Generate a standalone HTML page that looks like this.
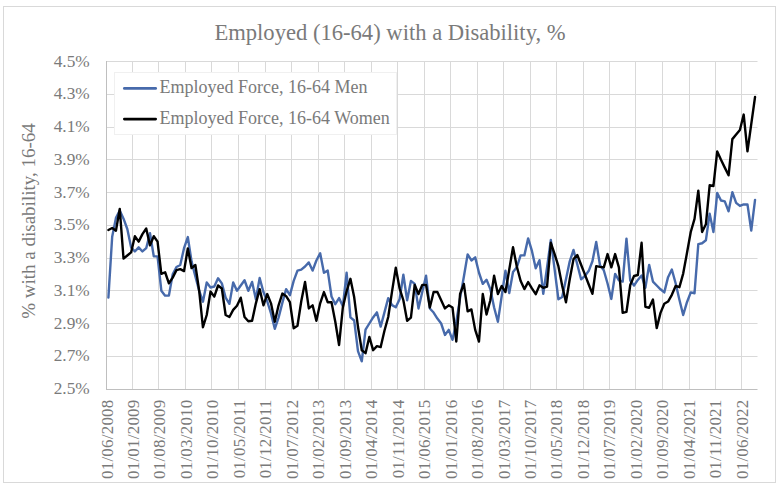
<!DOCTYPE html>
<html><head><meta charset="utf-8"><style>
html,body{margin:0;padding:0;background:#fff;}
body{width:784px;height:491px;overflow:hidden;position:relative;}
svg{position:absolute;left:0;top:0;}
text{font-family:"Liberation Serif",serif;fill:#7a7a7a;}
</style></head><body>
<svg width="784" height="491" viewBox="0 0 784 491">

<rect x="3.5" y="6.5" width="772" height="476" fill="#fff" stroke="#d9d9d9" stroke-width="1"/>
<line x1="106.5" y1="356.5" x2="757.5" y2="356.5" stroke="#d9d9d9" stroke-width="1"/>
<line x1="106.5" y1="323.5" x2="757.5" y2="323.5" stroke="#d9d9d9" stroke-width="1"/>
<line x1="106.5" y1="290.5" x2="757.5" y2="290.5" stroke="#d9d9d9" stroke-width="1"/>
<line x1="106.5" y1="258.5" x2="757.5" y2="258.5" stroke="#d9d9d9" stroke-width="1"/>
<line x1="106.5" y1="225.5" x2="757.5" y2="225.5" stroke="#d9d9d9" stroke-width="1"/>
<line x1="106.5" y1="192.5" x2="757.5" y2="192.5" stroke="#d9d9d9" stroke-width="1"/>
<line x1="106.5" y1="159.5" x2="757.5" y2="159.5" stroke="#d9d9d9" stroke-width="1"/>
<line x1="106.5" y1="127.5" x2="757.5" y2="127.5" stroke="#d9d9d9" stroke-width="1"/>
<line x1="106.5" y1="94.5" x2="757.5" y2="94.5" stroke="#d9d9d9" stroke-width="1"/>
<line x1="106.5" y1="61.5" x2="757.5" y2="61.5" stroke="#d9d9d9" stroke-width="1"/>
<line x1="106.5" y1="61" x2="106.5" y2="389" stroke="#bfbfbf" stroke-width="1"/>
<line x1="132.5" y1="61" x2="132.5" y2="389" stroke="#d9d9d9" stroke-width="1"/>
<line x1="158.5" y1="61" x2="158.5" y2="389" stroke="#d9d9d9" stroke-width="1"/>
<line x1="185.5" y1="61" x2="185.5" y2="389" stroke="#d9d9d9" stroke-width="1"/>
<line x1="211.5" y1="61" x2="211.5" y2="389" stroke="#d9d9d9" stroke-width="1"/>
<line x1="238.5" y1="61" x2="238.5" y2="389" stroke="#d9d9d9" stroke-width="1"/>
<line x1="265.5" y1="61" x2="265.5" y2="389" stroke="#d9d9d9" stroke-width="1"/>
<line x1="291.5" y1="61" x2="291.5" y2="389" stroke="#d9d9d9" stroke-width="1"/>
<line x1="318.5" y1="61" x2="318.5" y2="389" stroke="#d9d9d9" stroke-width="1"/>
<line x1="344.5" y1="61" x2="344.5" y2="389" stroke="#d9d9d9" stroke-width="1"/>
<line x1="371.5" y1="61" x2="371.5" y2="389" stroke="#d9d9d9" stroke-width="1"/>
<line x1="397.5" y1="61" x2="397.5" y2="389" stroke="#d9d9d9" stroke-width="1"/>
<line x1="424.5" y1="61" x2="424.5" y2="389" stroke="#d9d9d9" stroke-width="1"/>
<line x1="450.5" y1="61" x2="450.5" y2="389" stroke="#d9d9d9" stroke-width="1"/>
<line x1="477.5" y1="61" x2="477.5" y2="389" stroke="#d9d9d9" stroke-width="1"/>
<line x1="503.5" y1="61" x2="503.5" y2="389" stroke="#d9d9d9" stroke-width="1"/>
<line x1="530.5" y1="61" x2="530.5" y2="389" stroke="#d9d9d9" stroke-width="1"/>
<line x1="556.5" y1="61" x2="556.5" y2="389" stroke="#d9d9d9" stroke-width="1"/>
<line x1="583.5" y1="61" x2="583.5" y2="389" stroke="#d9d9d9" stroke-width="1"/>
<line x1="609.5" y1="61" x2="609.5" y2="389" stroke="#d9d9d9" stroke-width="1"/>
<line x1="635.5" y1="61" x2="635.5" y2="389" stroke="#d9d9d9" stroke-width="1"/>
<line x1="662.5" y1="61" x2="662.5" y2="389" stroke="#d9d9d9" stroke-width="1"/>
<line x1="689.5" y1="61" x2="689.5" y2="389" stroke="#d9d9d9" stroke-width="1"/>
<line x1="715.5" y1="61" x2="715.5" y2="389" stroke="#d9d9d9" stroke-width="1"/>
<line x1="741.5" y1="61" x2="741.5" y2="389" stroke="#d9d9d9" stroke-width="1"/>
<line x1="106" y1="389.5" x2="757.5" y2="389.5" stroke="#bfbfbf" stroke-width="1"/>
<text x="89.7" y="394.00" font-size="17.3" text-anchor="end">2.5%</text>
<text x="89.7" y="361.25" font-size="17.3" text-anchor="end">2.7%</text>
<text x="89.7" y="328.50" font-size="17.3" text-anchor="end">2.9%</text>
<text x="89.7" y="295.75" font-size="17.3" text-anchor="end">3.1%</text>
<text x="89.7" y="263.00" font-size="17.3" text-anchor="end">3.3%</text>
<text x="89.7" y="230.25" font-size="17.3" text-anchor="end">3.5%</text>
<text x="89.7" y="197.50" font-size="17.3" text-anchor="end">3.7%</text>
<text x="89.7" y="164.75" font-size="17.3" text-anchor="end">3.9%</text>
<text x="89.7" y="132.00" font-size="17.3" text-anchor="end">4.1%</text>
<text x="89.7" y="99.25" font-size="17.3" text-anchor="end">4.3%</text>
<text x="89.7" y="66.50" font-size="17.3" text-anchor="end">4.5%</text>
<text transform="translate(112.50,399.5) rotate(-90)" font-size="17" letter-spacing="0.2" text-anchor="end">01/06/2008</text>
<text transform="translate(138.97,399.5) rotate(-90)" font-size="17" letter-spacing="0.2" text-anchor="end">01/01/2009</text>
<text transform="translate(165.44,399.5) rotate(-90)" font-size="17" letter-spacing="0.2" text-anchor="end">01/08/2009</text>
<text transform="translate(191.91,399.5) rotate(-90)" font-size="17" letter-spacing="0.2" text-anchor="end">01/03/2010</text>
<text transform="translate(218.38,399.5) rotate(-90)" font-size="17" letter-spacing="0.2" text-anchor="end">01/10/2010</text>
<text transform="translate(244.85,399.5) rotate(-90)" font-size="17" letter-spacing="0.2" text-anchor="end">01/05/2011</text>
<text transform="translate(271.32,399.5) rotate(-90)" font-size="17" letter-spacing="0.2" text-anchor="end">01/12/2011</text>
<text transform="translate(297.79,399.5) rotate(-90)" font-size="17" letter-spacing="0.2" text-anchor="end">01/07/2012</text>
<text transform="translate(324.26,399.5) rotate(-90)" font-size="17" letter-spacing="0.2" text-anchor="end">01/02/2013</text>
<text transform="translate(350.73,399.5) rotate(-90)" font-size="17" letter-spacing="0.2" text-anchor="end">01/09/2013</text>
<text transform="translate(377.20,399.5) rotate(-90)" font-size="17" letter-spacing="0.2" text-anchor="end">01/04/2014</text>
<text transform="translate(403.67,399.5) rotate(-90)" font-size="17" letter-spacing="0.2" text-anchor="end">01/11/2014</text>
<text transform="translate(430.14,399.5) rotate(-90)" font-size="17" letter-spacing="0.2" text-anchor="end">01/06/2015</text>
<text transform="translate(456.61,399.5) rotate(-90)" font-size="17" letter-spacing="0.2" text-anchor="end">01/01/2016</text>
<text transform="translate(483.08,399.5) rotate(-90)" font-size="17" letter-spacing="0.2" text-anchor="end">01/08/2016</text>
<text transform="translate(509.55,399.5) rotate(-90)" font-size="17" letter-spacing="0.2" text-anchor="end">01/03/2017</text>
<text transform="translate(536.02,399.5) rotate(-90)" font-size="17" letter-spacing="0.2" text-anchor="end">01/10/2017</text>
<text transform="translate(562.49,399.5) rotate(-90)" font-size="17" letter-spacing="0.2" text-anchor="end">01/05/2018</text>
<text transform="translate(588.96,399.5) rotate(-90)" font-size="17" letter-spacing="0.2" text-anchor="end">01/12/2018</text>
<text transform="translate(615.43,399.5) rotate(-90)" font-size="17" letter-spacing="0.2" text-anchor="end">01/07/2019</text>
<text transform="translate(641.90,399.5) rotate(-90)" font-size="17" letter-spacing="0.2" text-anchor="end">01/02/2020</text>
<text transform="translate(668.37,399.5) rotate(-90)" font-size="17" letter-spacing="0.2" text-anchor="end">01/09/2020</text>
<text transform="translate(694.84,399.5) rotate(-90)" font-size="17" letter-spacing="0.2" text-anchor="end">01/04/2021</text>
<text transform="translate(721.31,399.5) rotate(-90)" font-size="17" letter-spacing="0.2" text-anchor="end">01/11/2021</text>
<text transform="translate(747.78,399.5) rotate(-90)" font-size="17" letter-spacing="0.2" text-anchor="end">01/06/2022</text>
<text transform="translate(34.5,221) rotate(-90)" font-size="19" text-anchor="middle">% with a disability, 16-64</text>
<text x="390" y="40" font-size="22.6" text-anchor="middle">Employed (16-64) with a Disability, %</text>
<path d="M108.40,297.63 L112.18,236.71 L115.96,217.88 L119.74,210.51 L123.53,218.70 L127.31,229.02 L131.09,247.36 L134.87,251.45 L138.65,247.36 L142.43,251.45 L146.22,248.18 L150.00,233.11 L153.78,256.36 L157.56,256.36 L161.34,290.75 L165.12,295.66 L168.90,295.66 L172.69,274.38 L176.47,267.01 L180.25,265.04 L184.03,248.18 L187.81,237.04 L191.59,261.60 L195.37,276.34 L199.16,290.75 L202.94,301.72 L206.72,282.40 L210.50,287.47 L214.28,286.49 L218.06,278.30 L221.84,283.38 L225.63,297.63 L229.41,303.85 L233.19,282.40 L236.97,290.75 L240.75,285.51 L244.53,280.27 L248.32,290.75 L252.10,281.91 L255.88,299.26 L259.66,277.98 L263.44,292.06 L267.22,301.23 L271.00,313.51 L274.79,328.74 L278.57,317.61 L282.35,302.87 L286.13,289.11 L289.91,295.17 L293.69,280.92 L297.48,270.61 L301.26,269.63 L305.04,266.51 L308.82,262.42 L312.60,270.61 L316.38,260.46 L320.16,253.25 L323.95,272.74 L327.73,270.61 L331.51,296.48 L335.29,304.18 L339.07,298.12 L342.85,306.31 L346.63,272.74 L350.42,317.44 L354.20,320.55 L357.98,351.17 L361.76,361.33 L365.54,329.72 L369.32,323.50 L373.11,317.44 L376.89,312.37 L380.67,326.61 L384.45,312.37 L388.23,298.12 L392.01,305.16 L395.79,307.29 L399.58,299.26 L403.36,274.70 L407.14,300.25 L410.92,280.92 L414.70,283.87 L418.48,308.44 L422.26,292.06 L426.05,275.68 L429.83,308.44 L433.61,312.53 L437.39,318.59 L441.17,323.50 L444.95,334.96 L448.74,329.89 L452.52,339.88 L456.30,321.70 L460.08,298.12 L463.86,276.83 L467.64,254.40 L471.42,260.46 L475.21,257.35 L478.99,272.74 L482.77,283.87 L486.55,279.78 L490.33,289.11 L494.11,307.45 L497.89,321.70 L501.68,296.15 L505.46,270.61 L509.24,293.04 L513.02,271.92 L516.80,267.33 L520.58,255.38 L524.37,255.38 L528.15,238.35 L531.93,250.96 L535.71,268.32 L539.49,260.13 L543.27,293.86 L547.05,267.33 L550.84,239.99 L554.62,269.46 L558.40,299.26 L562.18,296.97 L565.96,279.29 L569.74,261.28 L573.52,249.98 L577.31,264.55 L581.09,279.29 L584.87,276.01 L588.65,271.10 L592.43,261.28 L596.21,241.95 L600.00,265.21 L603.78,270.28 L607.56,283.54 L611.34,298.94 L615.12,273.88 L618.90,280.43 L622.68,281.58 L626.47,238.68 L630.25,280.60 L634.03,285.51 L637.81,279.94 L641.59,275.52 L645.37,287.80 L649.15,264.88 L652.94,281.58 L656.72,285.51 L660.50,289.28 L664.28,292.39 L668.06,277.16 L671.84,269.46 L675.62,283.22 L679.41,299.76 L683.19,314.99 L686.97,302.21 L690.75,292.39 L694.53,293.21 L698.31,244.08 L702.10,243.26 L705.88,240.32 L709.66,213.62 L713.44,231.96 L717.22,192.99 L721.00,200.52 L724.78,201.34 L728.57,211.33 L732.35,192.17 L736.13,202.82 L739.91,205.93 L743.69,204.45 L747.47,204.45 L751.25,230.49 L755.04,199.87" fill="none" stroke="#476aab" stroke-width="2.4" stroke-linejoin="round" stroke-linecap="round"/>
<path d="M108.40,230.00 L112.18,228.03 L115.96,230.65 L119.74,208.88 L123.53,258.66 L127.31,255.54 L131.09,252.43 L134.87,236.22 L138.65,241.63 L142.43,234.09 L146.22,228.53 L150.00,245.39 L153.78,236.22 L157.56,241.63 L161.34,273.88 L165.12,272.25 L168.90,283.38 L172.69,277.65 L176.47,270.12 L180.25,269.13 L184.03,271.10 L187.81,248.50 L191.59,268.15 L195.37,265.04 L199.16,290.75 L202.94,327.27 L206.72,314.99 L210.50,291.57 L214.28,296.64 L218.06,285.51 L221.84,288.46 L225.63,314.99 L229.41,316.95 L233.19,309.91 L236.97,305.81 L240.75,297.63 L244.53,316.95 L248.32,321.21 L252.10,320.72 L255.88,303.36 L259.66,289.11 L263.44,305.32 L267.22,294.02 L271.00,303.36 L274.79,321.70 L278.57,305.32 L282.35,293.53 L286.13,296.15 L289.91,302.21 L293.69,328.25 L297.48,325.79 L301.26,301.23 L305.04,281.91 L308.82,308.44 L312.60,305.32 L316.38,320.72 L320.16,303.36 L323.95,292.06 L327.73,302.21 L331.51,302.21 L335.29,321.70 L339.07,344.95 L342.85,307.45 L346.63,291.08 L350.42,278.80 L354.20,297.30 L357.98,326.78 L361.76,350.19 L365.54,353.14 L369.32,336.93 L373.11,350.19 L376.89,346.10 L380.67,347.08 L384.45,330.71 L388.23,316.95 L392.01,291.57 L395.79,267.66 L399.58,288.29 L403.36,300.25 L407.14,320.72 L410.92,317.61 L414.70,284.85 L418.48,294.02 L422.26,284.85 L426.05,284.85 L429.83,307.45 L433.61,292.06 L437.39,292.06 L441.17,300.25 L444.95,308.44 L448.74,305.32 L452.52,307.45 L456.30,341.51 L460.08,294.02 L463.86,283.87 L467.64,311.38 L471.42,309.42 L475.21,329.89 L478.99,341.51 L482.77,294.02 L486.55,314.49 L490.33,300.25 L494.11,275.68 L497.89,294.02 L501.68,286.00 L505.46,292.06 L509.24,269.63 L513.02,247.19 L516.80,266.51 L520.58,280.76 L524.37,289.11 L528.15,282.07 L531.93,288.46 L535.71,294.19 L539.49,285.35 L543.27,287.80 L547.05,286.66 L550.84,242.77 L554.62,254.07 L558.40,266.19 L562.18,285.67 L565.96,302.21 L569.74,279.29 L573.52,259.15 L577.31,255.05 L581.09,264.71 L584.87,274.38 L588.65,284.20 L592.43,293.86 L596.21,266.19 L600.00,266.84 L603.78,267.33 L607.56,254.07 L611.34,267.33 L615.12,254.07 L618.90,267.33 L622.68,312.86 L626.47,311.87 L630.25,285.02 L634.03,276.01 L637.81,275.03 L641.59,242.77 L645.37,306.80 L649.15,307.78 L652.94,299.59 L656.72,328.09 L660.50,312.86 L664.28,303.69 L668.06,301.56 L671.84,294.84 L675.62,286.00 L679.41,287.15 L683.19,273.56 L686.97,253.09 L690.75,231.96 L694.53,218.86 L698.31,190.70 L702.10,231.96 L705.88,224.27 L709.66,185.29 L713.44,185.95 L717.22,151.40 L721.00,159.75 L724.78,167.61 L728.57,175.31 L732.35,139.12 L736.13,134.53 L739.91,129.95 L743.69,114.55 L747.47,151.40 L751.25,124.05 L755.04,97.03" fill="none" stroke="#000000" stroke-width="2.4" stroke-linejoin="round" stroke-linecap="round"/>
<rect x="114.5" y="72.5" width="282" height="62" fill="#fff" stroke="#f0f0f0" stroke-width="1"/>
<line x1="124.3" y1="88.4" x2="155.7" y2="88.4" stroke="#476aab" stroke-width="2.6" stroke-linecap="round"/>
<line x1="124.3" y1="119.1" x2="155.7" y2="119.1" stroke="#000" stroke-width="2.6" stroke-linecap="round"/>
<text x="159.5" y="93.4" font-size="18">Employed Force, 16-64 Men</text>
<text x="159.5" y="124.2" font-size="18">Employed Force, 16-64 Women</text>
</svg></body></html>
